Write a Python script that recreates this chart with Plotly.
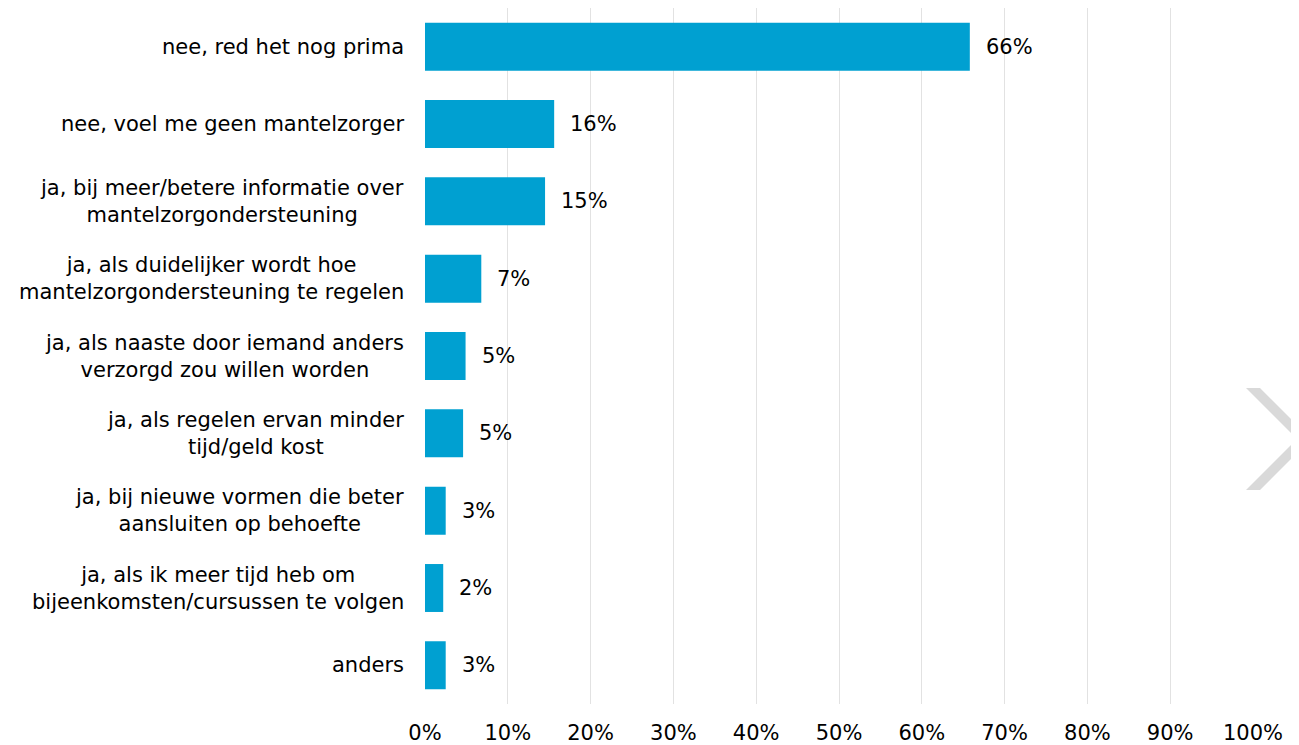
import plotly.graph_objects as go

categories = [
    "nee, red het nog prima",
    "nee, voel me geen mantelzorger",
    "ja, bij meer/betere informatie over<br>mantelzorgondersteuning",
    "ja, als duidelijker wordt hoe<br>mantelzorgondersteuning te regelen",
    "ja, als naaste door iemand anders<br>verzorgd zou willen worden",
    "ja, als regelen ervan minder<br>tijd/geld kost",
    "ja, bij nieuwe vormen die beter<br>aansluiten op behoefte",
    "ja, als ik meer tijd heb om<br>bijeenkomsten/cursussen te volgen",
    "anders",
]
values = [65.8, 15.6, 14.5, 6.8, 4.9, 4.6, 2.5, 2.2, 2.5]
value_labels = ["66%", "16%", "15%", "7%", "5%", "5%", "3%", "2%", "3%"]
x_ticks = list(range(0, 101, 10))

FONT = "Verdana, DejaVu Sans, sans-serif"
FS = 21
# page body has an 8px margin, so the figure is sized/offset accordingly
W, H = 1291, 737
ML, MR, MT, MB = 417, 46, 0, 41

ypos = list(range(len(categories)))

fig = go.Figure()
fig.add_trace(go.Bar(
    x=values, y=ypos, orientation="h",
    marker=dict(color="#00A0D1", line=dict(width=0)),
    width=0.62, hoverinfo="skip",
))

annotations = []
for i, (c, v, t) in enumerate(zip(categories, values, value_labels)):
    annotations.append(dict(
        x=0, xref="paper", y=i, yref="y", text=c, showarrow=False,
        xanchor="right", yanchor="middle", align="center", xshift=-19,
        font=dict(family=FONT, size=FS, color="#000000"),
    ))
    annotations.append(dict(
        x=v, xref="x", y=i, yref="y", text=t, showarrow=False,
        xanchor="left", yanchor="middle", xshift=14,
        font=dict(family=FONT, size=FS, color="#000000"),
    ))

# decorative chevron at right edge (figure pixels -> paper)
pw, ph = W - ML - MR, H - MT - MB
def px(x):
    return (x - ML) / pw
def py(y):
    return 1 - (y - MT) / ph
pts = [(1238, 380), (1252, 380), (1303, 431), (1252, 482), (1238, 482), (1289, 431)]
path = "M " + " L ".join(f"{px(a)},{py(b)}" for a, b in pts) + " Z"

fig.update_layout(
    width=W, height=H,
    margin=dict(l=ML, r=MR, t=MT, b=MB),
    paper_bgcolor="white", plot_bgcolor="white",
    showlegend=False,
    xaxis=dict(
        range=[0, 100], tickvals=x_ticks,
        ticktext=[f"{t}%" for t in x_ticks],
        showgrid=True, gridcolor="#e2e2e2", gridwidth=1,
        zeroline=False, showline=False, ticks="",
        tickfont=dict(family=FONT, size=FS, color="#000000"),
        ticklabelstandoff=14,
        fixedrange=True,
    ),
    yaxis=dict(
        range=[len(categories) - 0.5, -0.5],
        showticklabels=False, showgrid=False, zeroline=False,
        showline=False, ticks="", fixedrange=True,
    ),
    annotations=annotations,
    shapes=[dict(
        type="path", xref="paper", yref="paper", path=path,
        fillcolor="#d9d9d9", line=dict(width=0), layer="above",
    )],
)

fig.write_html("out.html")
